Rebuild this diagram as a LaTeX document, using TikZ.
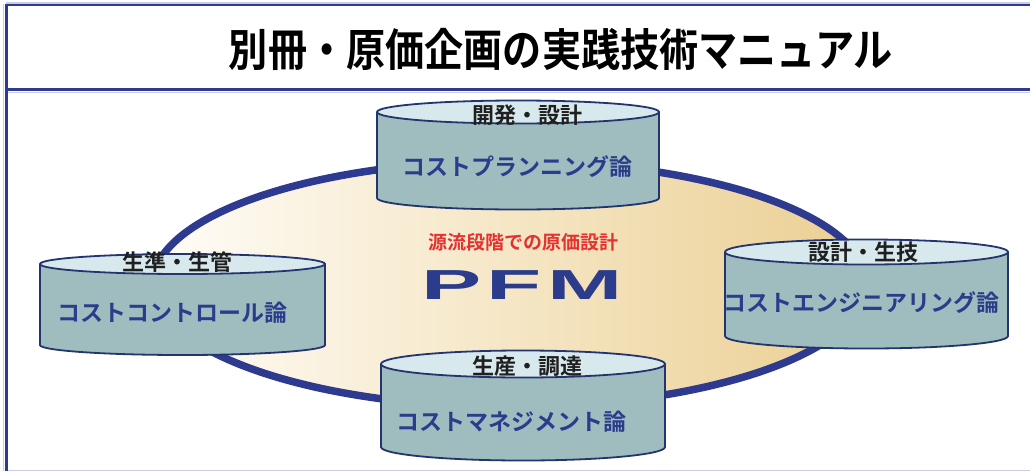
\documentclass[tikz,border=0pt]{standalone}
\usepackage{fontspec}
\newfontfamily\cjk{Noto Sans CJK JP}[BoldFont={Noto Sans CJK JP Bold}]
\newfontfamily\pfmfont{Liberation Sans}
\definecolor{navy}{HTML}{2E3A8F}
\definecolor{framelight}{HTML}{C9CCE6}
\definecolor{cylside}{HTML}{9FBCBF}
\definecolor{cyltop}{HTML}{D7E9EC}
\definecolor{cylline}{HTML}{23346E}
\definecolor{bluetext}{HTML}{2B3C8C}
\definecolor{redtext}{HTML}{E5312F}
\definecolor{creamL}{HTML}{FFFDF8}
\definecolor{creamR}{HTML}{EBCF92}
\tikzset{
  cylfill/.style={fill=cylside},
  cyledge/.style={draw=cylline, line width=1.8pt},
  lab/.style={font=\cjk\bfseries\fontsize{22}{24}\selectfont, text=black!88, inner sep=0pt},
  main/.style={font=\cjk\bfseries\fontsize{23}{25}\selectfont, text=bluetext, inner sep=0pt},
}
\newcommand{\mycyl}[6]{% cx, ty, by, rx, ry, unused
  \fill[cylfill] (#1,#3) ellipse ({#4} and {#5});
  \draw[cyledge] (#1,#3) ellipse ({#4} and {#5});
  \fill[cylfill] ({#1-#4},#2) rectangle ({#1+#4},#3);
  \draw[cyledge] ({#1-#4},#2) -- ({#1-#4},#3);
  \draw[cyledge] ({#1+#4},#2) -- ({#1+#4},#3);
  \fill[cyltop] (#1,#2) ellipse ({#4} and {#5});
  \draw[cyledge] (#1,#2) ellipse ({#4} and {#5});
}
\begin{document}
\begin{tikzpicture}[x=1pt,y=-1pt]
\useasboundingbox (0,0) rectangle (1030,471);
\fill[white] (0,0) rectangle (1030,471);
% frame
\draw[framelight, line width=1pt] (8,470) -- (1030,470);
\draw[framelight, line width=1.2pt] (3.5,4) -- (3.5,471);
\draw[framelight, line width=1.2pt] (6,92.5) -- (1030,92.5);
\draw[framelight, line width=1.2pt] (6,3) -- (1030,3);
\draw[navy, line width=3pt] (6,4) -- (6,471);
\draw[navy, line width=2.5pt] (4.5,5) -- (1030,5);
\draw[navy, line width=3pt] (4.5,89.5) -- (1030,89.5);
\node[font=\cjk\bfseries\fontsize{43}{46}\selectfont, xscale=0.91, yscale=1.04, inner sep=0pt] (title) at (561,49) {別冊・原価企画の実践技術マニュアル};
% big ellipse
\shade[left color=creamL, right color=creamR] (510,284) ellipse (357 and 123);
\draw[navy, line width=7.5pt] (510,284) ellipse (357 and 123);
% center texts
\node[font=\cjk\bfseries\fontsize{19}{21}\selectfont, text=redtext, inner sep=0pt] (sub) at (523,242) {源流段階での原価設計};
\node[font=\pfmfont\bfseries\fontsize{42}{44}\selectfont, text=bluetext, xscale=2.15, inner sep=0pt] (pfm) at (522,285) {P\hspace{2.5pt}F\hspace{2.5pt}M};
% cylinders
\mycyl{518}{112}{198}{141}{11.5}{}
\mycyl{182.5}{264}{345}{142.5}{10}{}
\mycyl{866.5}{252}{336}{141.5}{12.5}{}
\mycyl{523}{364}{447}{142}{13.5}{}
% cylinder texts
\node[lab] (l1) at (527,115) {開発・設計};
\node[main] (m1) at (517,167) {コストプランニング論};
\node[lab] (l2) at (177,262) {生準・生管};
\node[main] (m2) at (172,313) {コストコントロール論};
\node[lab] (l3) at (863,252) {設計・生技};
\node[main, font=\cjk\bfseries\fontsize{23}{25}\selectfont] (m3) at (861,303) {コストエンジニアリング論};
\node[lab] (l4) at (527,366) {生産・調達};
\node[main] (m4) at (511,422) {コストマネジメント論};
\end{tikzpicture}
\end{document}
